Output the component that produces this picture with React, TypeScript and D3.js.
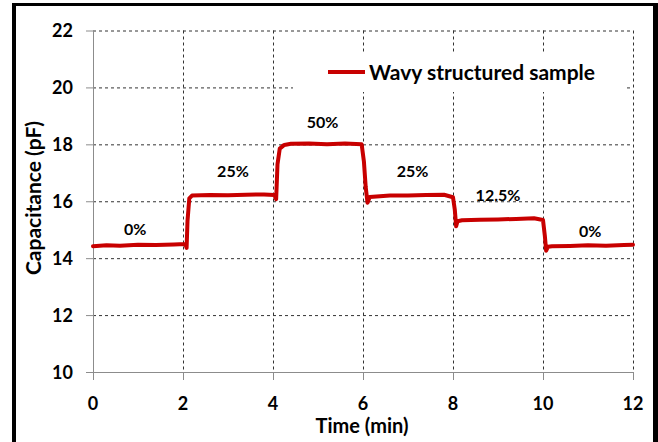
import React, { useRef, useEffect } from "react";
import * as d3 from "d3";

// readings (minutes, pF)
const timeMin = [
  0, 0.3, 0.6, 1.0, 1.4, 1.8, 2.05, 2.08, 2.1, 2.14, 2.2, 2.6, 3.0, 3.4, 3.8,
  4.03, 4.07, 4.1, 4.15, 4.25, 4.4, 4.8, 5.2, 5.6, 5.97, 6.02, 6.06, 6.1, 6.15,
  6.6, 7.0, 7.4, 7.8, 8.0, 8.04, 8.07, 8.1, 8.2, 8.6, 9.0, 9.4, 9.8, 10.0, 10.04,
  10.07, 10.11, 10.2, 10.6, 11.0, 11.4, 11.8, 12.0,
];
const capacitance = [
  14.42, 14.45, 14.44, 14.47, 14.46, 14.48, 14.5, 14.36, 15.3, 16.1, 16.2,
  16.22, 16.21, 16.23, 16.24, 16.22, 16.07, 17.3, 17.85, 17.98, 18.02, 18.03,
  18.0, 18.03, 18.0, 17.4, 16.5, 15.95, 16.15, 16.2, 16.2, 16.22, 16.23, 16.14,
  15.7, 15.12, 15.3, 15.33, 15.35, 15.36, 15.38, 15.4, 15.34, 14.8, 14.26, 14.4,
  14.42, 14.43, 14.45, 14.44, 14.46, 14.47,
];

const xTicks = [0, 2, 4, 6, 8, 10, 12];
const yTicks = [10, 12, 14, 16, 18, 20, 22];

const stepLabels = ["0%", "25%", "50%", "25%", "12.5%", "0%"];
const stepLabelTime = [0.94, 3.11, 5.1, 7.1, 9.0, 11.05];
const stepLabelValue = [14.83, 16.84, 18.58, 16.84, 16.02, 14.76];

const seriesName = "Wavy structured sample";
const FONT = "Lato, 'Open Sans', sans-serif";

const App = () => {
  const svgRef = useRef(null);

  useEffect(() => {
    const svg = d3.select(svgRef.current);
    svg.selectAll("*").remove();

    const x = d3.scaleLinear().domain([0, 12]).range([93, 633]);
    const y = d3.scaleLinear().domain([10, 22]).range([372, 30.5]);

    // outer frame
    svg.append("rect").attr("width", 658).attr("height", 442).attr("fill", "#fff");
    svg.append("line").attr("x1", 12).attr("x2", 658).attr("y1", 4.5).attr("y2", 4.5)
      .attr("stroke", "#000").attr("stroke-width", 3);
    svg.append("line").attr("x1", 14).attr("x2", 14).attr("y1", 3).attr("y2", 442)
      .attr("stroke", "#000").attr("stroke-width", 4);
    svg.append("line").attr("x1", 655.5).attr("x2", 655.5).attr("y1", 3).attr("y2", 442)
      .attr("stroke", "#000").attr("stroke-width", 5);

    // grid
    const grid = svg.append("g");
    grid.selectAll("line.h")
      .data(yTicks.filter((d) => d > 10))
      .enter().append("line")
      .attr("x1", x(0)).attr("x2", x(12))
      .attr("y1", (d) => y(d) + 0.5).attr("y2", (d) => y(d) + 0.5)
      .attr("stroke", "#333").attr("stroke-dasharray", "3,3");
    grid.selectAll("line.v")
      .data(xTicks.filter((d) => d > 0))
      .enter().append("line")
      .attr("x1", (d) => x(d) + 0.5).attr("x2", (d) => x(d) + 0.5)
      .attr("y1", y(22)).attr("y2", y(10))
      .attr("stroke", "#333").attr("stroke-dasharray", "3,3");

    // axes
    const axes = svg.append("g").attr("stroke", "#8c8c8c");
    axes.append("line").attr("x1", x(0) + 0.5).attr("x2", x(0) + 0.5)
      .attr("y1", y(22)).attr("y2", y(10) + 8);
    axes.append("line").attr("x1", x(0) - 7).attr("x2", x(12))
      .attr("y1", y(10) + 0.5).attr("y2", y(10) + 0.5);
    axes.selectAll("line.yt").data(yTicks.filter((d) => d > 10)).enter().append("line")
      .attr("x1", x(0) - 7).attr("x2", x(0))
      .attr("y1", (d) => y(d) + 0.5).attr("y2", (d) => y(d) + 0.5);
    axes.selectAll("line.xt").data(xTicks.filter((d) => d > 0)).enter().append("line")
      .attr("x1", (d) => x(d) + 0.5).attr("x2", (d) => x(d) + 0.5)
      .attr("y1", y(10)).attr("y2", y(10) + 8);

    // tick labels
    svg.append("g").selectAll("text").data(yTicks).enter().append("text")
      .attr("x", 73).attr("y", (d) => y(d) + 6.5)
      .attr("text-anchor", "end")
      .style("font", `bold 18px ${FONT}`)
      .text((d) => d);
    svg.append("g").selectAll("text").data(xTicks).enter().append("text")
      .attr("x", (d) => x(d)).attr("y", 410)
      .attr("text-anchor", "middle")
      .style("font", `bold 18px ${FONT}`)
      .text((d) => d);

    // axis titles
    svg.append("text").attr("x", 362).attr("y", 433)
      .attr("text-anchor", "middle").style("font", `bold 20px ${FONT}`)
      .text("Time (min)");
    svg.append("text")
      .attr("transform", "translate(41,198) rotate(-90)")
      .attr("text-anchor", "middle").style("font", `bold 21px ${FONT}`)
      .text("Capacitance  (pF)");

    // legend (white box hides grid behind it)
    svg.append("rect").attr("x", 293).attr("y", 54).attr("width", 331).attr("height", 38)
      .attr("fill", "#fff");
    svg.append("line").attr("x1", 328).attr("x2", 365).attr("y1", 72).attr("y2", 72)
      .attr("stroke", "#c80000").attr("stroke-width", 4);
    svg.append("text").attr("x", 369).attr("y", 79.5)
      .style("font", `bold 21px ${FONT}`).attr("fill", "#000")
      .text(seriesName);

    // trace
    const pts = timeMin.map((t, i) => [t, capacitance[i]]);
    const line = d3.line().x((d) => x(d[0])).y((d) => y(d[1]));
    svg.append("path").datum(pts)
      .attr("d", line)
      .attr("fill", "none").attr("stroke", "#c80000").attr("stroke-width", 4)
      .attr("stroke-linejoin", "round").attr("stroke-linecap", "round");

    // step annotations
    svg.append("g").selectAll("text").data(stepLabels).enter().append("text")
      .attr("x", (d, i) => x(stepLabelTime[i]))
      .attr("y", (d, i) => y(stepLabelValue[i]))
      .attr("text-anchor", "middle")
      .style("font", `bold 16px ${FONT}`)
      .text((d) => d);

    return () => {};
  }, []);

  return (
    <svg ref={svgRef} width={658} height={442}
      style={{ position: "absolute", left: 0, top: 0 }} />
  );
};

export default App;
